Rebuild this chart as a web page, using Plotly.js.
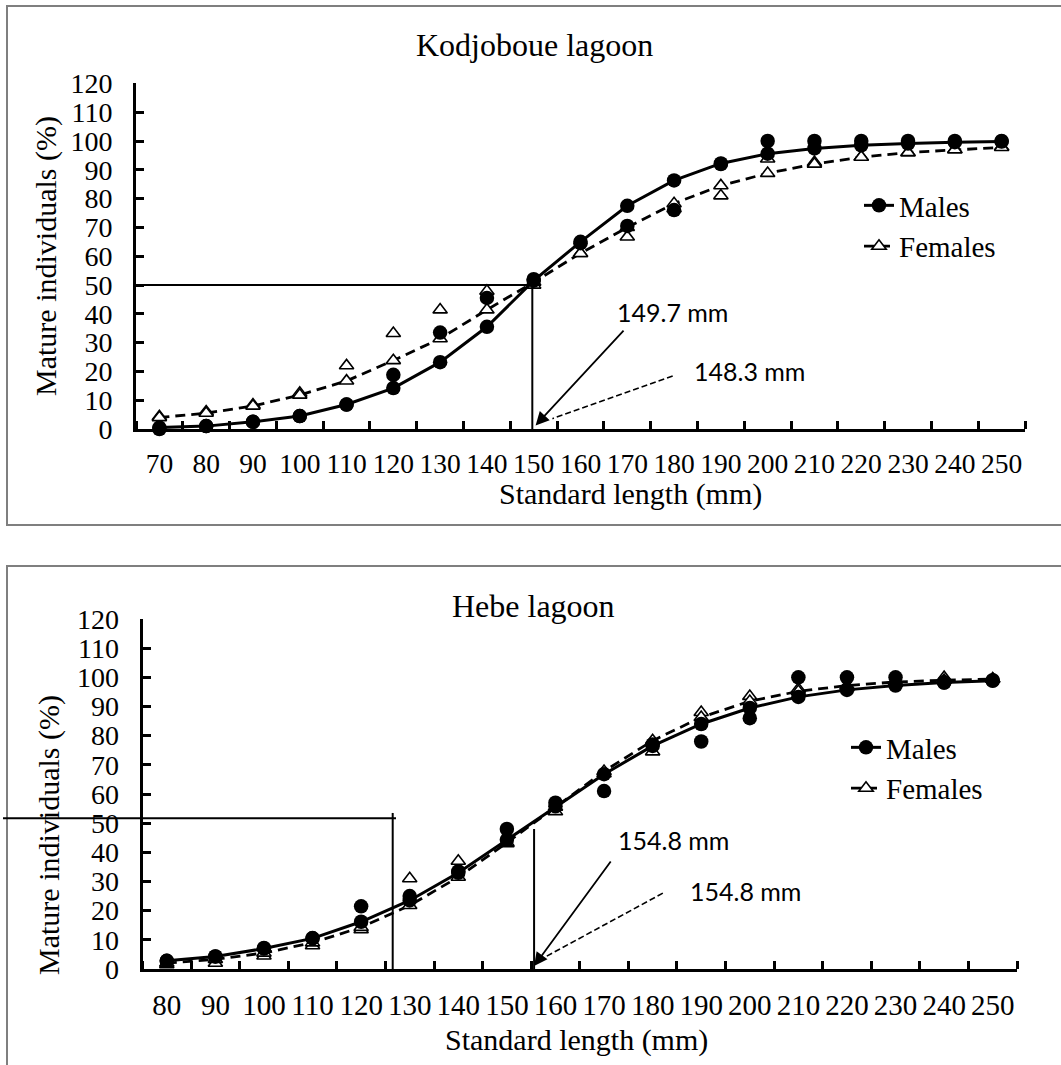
<!DOCTYPE html>
<html>
<head>
<meta charset="utf-8">
<script src="https://cdn.plot.ly/plotly-3.0.1.min.js"></script>
<style>
  html, body { margin: 0; padding: 0; background: #ffffff; }
  #chart { width: 1061px; height: 1065px; }
</style>
</head>
<body>
<div id="chart"></div>
<script>
// ---------- Data: Kodjoboue lagoon (top panel) ----------
const lengthsK = [70, 80, 90, 100, 110, 120, 130, 140, 150, 160, 170, 180, 190, 200, 210, 220, 230, 240, 250];
const maleFitK   = [0.5, 1, 2.5, 4.5, 8.5, 14.2, 23.2, 35.5, 51.5, 65, 77.5, 86.3, 92.2, 95.6, 97.4, 98.5, 99.1, 99.6, 99.8];
const maleObsK   = [0, 1, 2.5, 4.5, 8.5, 18.8, 33.5, 45.5, 52, 64.5, 70.5, 76, 92, 100, 100, 100, 100, 100, 100];
const femaleFitK = [4, 5.5, 8, 11.8, 16.7, 23.8, 31.4, 41.4, 51, 61, 70, 78.3, 84.5, 88.8, 92, 94.4, 96, 97, 97.8];
const femaleObsK = [4.3, 6, 8.4, 12.5, 22, 33.2, 41.4, 47.9, 50, 61, 66.7, 76.5, 81, 93.8, 92.6, 94.4, 96, 97, 98];
const l50MaleK = 149.7;
const l50FemaleK = 148.3;

// ---------- Data: Hebe lagoon (bottom panel) ----------
const lengthsH = [80, 90, 100, 110, 120, 130, 140, 150, 160, 170, 180, 190, 200, 210, 220, 230, 240, 250];
const maleFitH   = [2.8, 4.3, 7, 10.5, 16.2, 23.5, 33, 44.3, 55.8, 66.8, 76.5, 84, 89.5, 93.3, 95.7, 97.2, 98.2, 98.8];
const maleObsH   = [2.8, 4.3, 7.2, 10.6, 21.5, 25, 33.5, 48, 57, 61, 77, 78, 86, 100, 100, 100, 98.2, 99];
const femaleFitH = [2, 3.3, 5.5, 9, 14.3, 21.8, 31.5, 43.3, 55.5, 67.8, 78.3, 86.3, 91.8, 95.2, 97.2, 98.4, 99, 99.4];
const femaleObsH = [1.5, 2, 4.5, 8, 13.5, 31, 37, 43, 54, 67, 74.5, 88, 93.5, 96, 96.5, 98, 100, 99.5];
const l50MaleH = 154.8;
const l50FemaleH = 154.8;

// ---------- Styling ----------
const SERIF = '"Liberation Serif", "Times New Roman", serif';
const SANS = 'Lato, "Open Sans", sans-serif';
const W = 1061, H = 1065;
const px = v => v / W;           // horizontal pixel -> paper
const py = v => 1 - v / H;       // vertical pixel (from top) -> paper

const circleMarker = { symbol: 'circle', size: 14.5, color: '#000000' };
const triMarker = { symbol: 'triangle-up', size: 12.5, color: '#ffffff', line: { color: '#000000', width: 1.6 } };

function panelTraces(xs, mFit, mObs, fFit, fObs, xa, ya, legendId) {
  return [
    { x: xs, y: fObs, xaxis: xa, yaxis: ya, type: 'scatter', mode: 'markers', marker: triMarker,
      showlegend: false, cliponaxis: false, hoverinfo: 'skip' },
    { x: xs, y: fFit, xaxis: xa, yaxis: ya, type: 'scatter', mode: 'lines+markers', name: 'Females',
      line: { color: '#000000', width: 2.8, dash: '10px,6px' }, marker: triMarker,
      legend: legendId, legendrank: 2, cliponaxis: false },
    { x: xs, y: mObs, xaxis: xa, yaxis: ya, type: 'scatter', mode: 'markers', marker: circleMarker,
      showlegend: false, cliponaxis: false, hoverinfo: 'skip' },
    { x: xs, y: mFit, xaxis: xa, yaxis: ya, type: 'scatter', mode: 'lines+markers', name: 'Males',
      line: { color: '#000000', width: 3 }, marker: circleMarker,
      legend: legendId, legendrank: 1, cliponaxis: false }
  ];
}

const traces = []
  .concat(panelTraces(lengthsK, maleFitK, maleObsK, femaleFitK, femaleObsK, 'x', 'y', 'legend'))
  .concat(panelTraces(lengthsH, maleFitH, maleObsH, femaleFitH, femaleObsH, 'x2', 'y2', 'legend2'));

function xAxis(domain, range, tickvals, anchor, fontSize) {
  const minorVals = tickvals.map(v => v - 5).concat([tickvals[tickvals.length - 1] + 5]);
  return {
    domain: domain, range: range, anchor: anchor,
    tickmode: 'array', tickvals: tickvals, ticktext: tickvals.map(String),
    ticks: '', showline: true, linecolor: '#000000', linewidth: 3,
    showgrid: false, zeroline: false, fixedrange: true,
    tickfont: { family: SERIF, size: fontSize, color: '#000000' },
    ticklabelstandoff: 8,
    minor: { tickmode: 'array', tickvals: minorVals, ticks: 'inside', ticklen: 8, tickwidth: 3, tickcolor: '#000000', showgrid: false }
  };
}
function yAxis(domain, anchor) {
  return {
    domain: domain, range: [0, 120], anchor: anchor,
    tickmode: 'linear', tick0: 0, dtick: 10,
    ticks: 'inside', ticklen: 8, tickwidth: 3, tickcolor: '#000000',
    showline: true, linecolor: '#000000', linewidth: 3,
    showgrid: false, zeroline: false, fixedrange: true,
    tickfont: { family: SERIF, size: 28, color: '#000000' },
    ticklabelstandoff: 15
  };
}

const textFont = { family: SERIF, size: 30, color: '#000000' };
const calloutFont = { family: SANS, size: 25, color: '#000000' };
const C = { xanchor: 'center', yanchor: 'middle', showarrow: false };

const annotations = [
  // titles
  Object.assign({ text: 'Kodjoboue lagoon', xref: 'paper', yref: 'paper', x: px(534), y: py(45), font: { family: SERIF, size: 32, color: '#000000' } }, C),
  Object.assign({ text: 'Hebe lagoon', xref: 'paper', yref: 'paper', x: px(533), y: py(606), font: { family: SERIF, size: 32, color: '#000000' } }, C),
  // axis titles
  Object.assign({ text: 'Standard length (mm)', xref: 'paper', yref: 'paper', x: px(630), y: py(494), font: textFont }, C),
  Object.assign({ text: 'Standard length (mm)', xref: 'paper', yref: 'paper', x: px(576), y: py(1040), font: textFont }, C),
  Object.assign({ text: 'Mature individuals (%)', xref: 'paper', yref: 'paper', x: px(46), y: py(256), textangle: -90, font: textFont }, C),
  Object.assign({ text: 'Mature individuals (%)', xref: 'paper', yref: 'paper', x: px(49), y: py(835), textangle: -90, font: textFont }, C),
  // L50 callouts, top
  Object.assign({ text: l50MaleK.toFixed(1) + ' mm', xref: 'x', yref: 'y', x: 179.7, y: 40.6, font: calloutFont }, C),
  Object.assign({ text: l50FemaleK.toFixed(1) + ' mm', xref: 'x', yref: 'y', x: 196.2, y: 20.1, font: calloutFont }, C),
  { text: '', xref: 'x', yref: 'y', x: 150.4, y: 1.2, axref: 'x', ayref: 'y', ax: 169.5, ay: 34.7,
    showarrow: true, arrowhead: 2, arrowsize: 1.5, arrowwidth: 1.8, arrowcolor: '#000000' },
  // L50 callouts, bottom
  Object.assign({ text: l50MaleH.toFixed(1) + ' mm', xref: 'x2', yref: 'y2', x: 184.2, y: 44.2, font: calloutFont }, C),
  Object.assign({ text: l50FemaleH.toFixed(1) + ' mm', xref: 'x2', yref: 'y2', x: 199.2, y: 26.7, font: calloutFont }, C),
  { text: '', xref: 'x2', yref: 'y2', x: 155.6, y: 1.0, axref: 'x2', ayref: 'y2', ax: 171.6, ay: 37.4,
    showarrow: true, arrowhead: 2, arrowsize: 1.5, arrowwidth: 1.8, arrowcolor: '#000000' }
];

const borderLine = { color: '#7f7f7f', width: 2 };
const shapes = [
  // panel frames
  { type: 'rect', xref: 'paper', yref: 'paper', x0: px(7), x1: 1.05, y0: py(525), y1: py(6), line: borderLine, layer: 'below' },
  { type: 'rect', xref: 'paper', yref: 'paper', x0: px(7), x1: 1.05, y0: -0.05, y1: py(566), line: borderLine, layer: 'below' },
  // top panel reference lines at 50 %
  { type: 'line', xref: 'x', yref: 'y', x0: 65, x1: l50MaleK, y0: 50, y1: 50, line: { color: '#000000', width: 2 } },
  { type: 'line', xref: 'x', yref: 'y', x0: l50MaleK, x1: l50MaleK, y0: 0, y1: 51.5, line: { color: '#000000', width: 2 } },
  { type: 'line', xref: 'x', yref: 'y', x0: 179.7, y0: 18.4, x1: 154.0, y1: 3.6, line: { color: '#000000', width: 1.6, dash: '6px,3px' } },
  // bottom panel reference lines (as drawn in the original)
  { type: 'line', xref: 'paper', yref: 'y2', x0: px(3), x1: px(396), y0: 51.7, y1: 51.7, line: { color: '#000000', width: 2 } },
  { type: 'line', xref: 'x2', yref: 'y2', x0: 126.5, x1: 126.5, y0: 0, y1: 53.5, line: { color: '#000000', width: 2 } },
  { type: 'line', xref: 'x2', yref: 'y2', x0: 155.6, x1: 155.6, y0: 0, y1: 48, line: { color: '#000000', width: 2 } },
  { type: 'line', xref: 'x2', yref: 'y2', x0: 182.1, y0: 26, x1: 157.2, y1: 3.5, line: { color: '#000000', width: 1.6, dash: '6px,3px' } }
];

const legendBase = {
  xanchor: 'left', yanchor: 'top', bgcolor: 'rgba(0,0,0,0)', borderwidth: 0,
  font: { family: SERIF, size: 29, color: '#000000' }, traceorder: 'normal', itemwidth: 30
};

const layout = {
  width: W, height: H,
  margin: { l: 0, r: 0, t: 0, b: 0 },
  paper_bgcolor: '#ffffff', plot_bgcolor: 'rgba(0,0,0,0)',
  showlegend: true,
  xaxis: xAxis([px(136), px(1025)], [65, 255], lengthsK, 'y', 27.5),
  yaxis: yAxis([py(429), py(83.4)], 'x'),
  xaxis2: xAxis([px(142.5), px(1017)], [75, 255], lengthsH, 'y2', 29),
  yaxis2: yAxis([py(969), py(619)], 'x2'),
  legend: Object.assign({}, legendBase, { x: px(859), y: py(180) }),
  legend2: Object.assign({}, legendBase, { x: px(846), y: py(722) }),
  annotations: annotations,
  shapes: shapes
};

Plotly.newPlot('chart', traces, layout, { displayModeBar: false, staticPlot: true });
</script>
</body>
</html>
